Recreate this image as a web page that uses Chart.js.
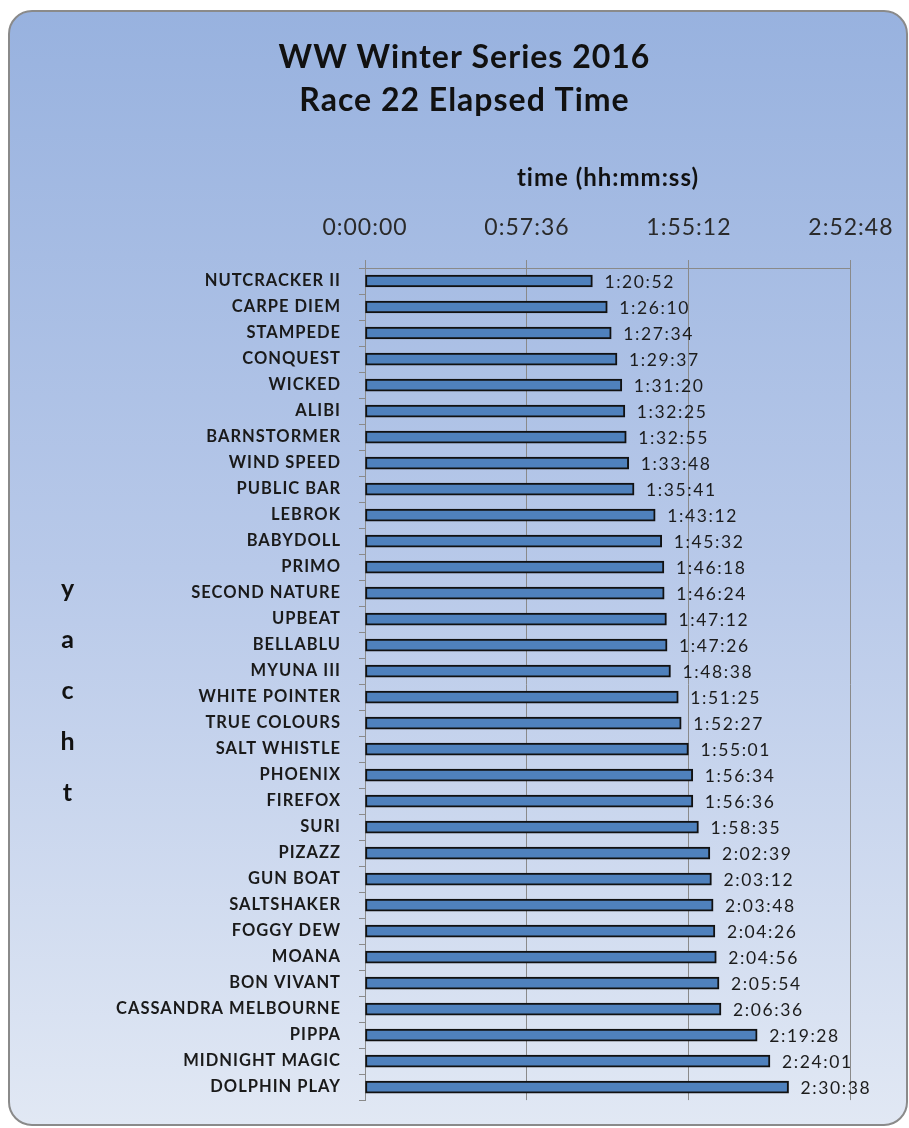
<!DOCTYPE html>
<html><head><meta charset="utf-8">
<script src="https://cdn.jsdelivr.net/npm/chart.js@4.4.1/dist/chart.umd.min.js"></script>
<style>
html,body{margin:0;padding:0;background:#fff;}
#wrap{position:relative;width:909px;height:1128px;overflow:hidden;}
#box{position:absolute;left:8px;top:10px;width:896px;height:1112px;border:2px solid #8a8a8a;border-radius:24px;background:linear-gradient(to bottom,#98b2df 0%,#b8c9e9 50%,#e1e8f4 100%);}
canvas{position:absolute;left:0;top:0;}
</style></head>
<body><div id="wrap"><div id="box"></div><canvas id="c" width="909" height="1128"></canvas></div>
<script>
const titleLines = ['WW Winter Series 2016', 'Race 22 Elapsed Time'];
const xAxisTitle = 'time (hh:mm:ss)';
const yAxisLetters = ['y', 'a', 'c', 'h', 't'];
const yachts = ['NUTCRACKER II','CARPE DIEM','STAMPEDE','CONQUEST','WICKED','ALIBI','BARNSTORMER','WIND SPEED','PUBLIC BAR','LEBROK','BABYDOLL','PRIMO','SECOND NATURE','UPBEAT','BELLABLU','MYUNA III','WHITE POINTER','TRUE COLOURS','SALT WHISTLE','PHOENIX','FIREFOX','SURI','PIZAZZ','GUN BOAT','SALTSHAKER','FOGGY DEW','MOANA','BON VIVANT','CASSANDRA MELBOURNE','PIPPA','MIDNIGHT MAGIC','DOLPHIN PLAY'];
const elapsed = ['1:20:52','1:26:10','1:27:34','1:29:37','1:31:20','1:32:25','1:32:55','1:33:48','1:35:41','1:43:12','1:45:32','1:46:18','1:46:24','1:47:12','1:47:26','1:48:38','1:51:25','1:52:27','1:55:01','1:56:34','1:56:36','1:58:35','2:02:39','2:03:12','2:03:48','2:04:26','2:04:56','2:05:54','2:06:36','2:19:28','2:24:01','2:30:38'];
const tickLabels = ['0:00:00','0:57:36','1:55:12','2:52:48'];
const tickSeconds = [0, 3456, 6912, 10368];

function toSeconds(s){ const p = s.split(':').map(Number); return p[0]*3600 + p[1]*60 + p[2]; }
const seconds = elapsed.map(toSeconds);

const textSpacing = {
  id: 'textSpacing',
  beforeDraw(chart){ if ('letterSpacing' in chart.ctx) chart.ctx.letterSpacing = '1px'; }
};
const valueLabels = {
  id: 'valueLabels',
  afterDatasetsDraw(chart){
    const ctx = chart.ctx;
    const meta = chart.getDatasetMeta(0);
    ctx.save();
    ctx.font = '17.5px Lato';
    ctx.fillStyle = '#1c1c1c';
    ctx.textBaseline = 'middle';
    ctx.textAlign = 'left';
    if ('letterSpacing' in ctx) ctx.letterSpacing = '1.6px';
    meta.data.forEach((bar, i) => { ctx.fillText(elapsed[i], bar.x + 12, bar.y + 1); });
    ctx.restore();
  }
};
const verticalTitle = {
  id: 'verticalTitle',
  afterDraw(chart){
    const ctx = chart.ctx;
    ctx.save();
    ctx.font = 'bold 25px Lato';
    ctx.fillStyle = '#111';
    ctx.textAlign = 'center';
    ctx.textBaseline = 'alphabetic';
    yAxisLetters.forEach((ch, i) => ctx.fillText(ch, 68, 597 + i*51));
    ctx.restore();
  }
};

function build(){
  new Chart(document.getElementById('c'), {
    type: 'bar',
    data: {
      labels: yachts,
      datasets: [{
        data: seconds,
        backgroundColor: '#4f81bd',
        borderColor: '#111111',
        borderWidth: 2,
        borderSkipped: false,
        barThickness: 12
      }]
    },
    options: {
      indexAxis: 'y',
      responsive: false,
      animation: false,
      devicePixelRatio: 1,
      layout: { padding: { left: 77, right: 57, top: 0, bottom: 24 } },
      plugins: {
        legend: { display: false },
        tooltip: { enabled: false },
        title: {
          display: true,
          text: titleLines,
          color: '#111',
          font: { family: 'Lato', size: 32, weight: 'bold', lineHeight: 1.36 },
          padding: { top: 35.5, bottom: 0 }
        }
      },
      scales: {
        x: {
          position: 'top',
          min: 0, max: 10368,
          afterBuildTicks(scale){ scale.ticks = tickSeconds.map(v => ({ value: v })); },
          afterFit(scale){ scale.height = 145.5; },
          ticks: {
            callback: (v, i) => tickLabels[i],
            font: { family: 'Lato', size: 23 },
            color: '#2a2a2a',
            padding: 19,
            maxRotation: 0
          },
          grid: { color: '#8a8a8a', lineWidth: 1, tickLength: 8 },
          border: { display: true, color: '#8a8a8a' },
          title: {
            display: true,
            text: xAxisTitle,
            color: '#111',
            font: { family: 'Lato', size: 24, weight: 'bold', lineHeight: 1.2 },
            padding: { top: 41.1, bottom: 0 }
          }
        },
        y: {
          afterFit(scale){ scale.width = 288; },
          ticks: {
            font: { family: 'Lato', size: 16.5, weight: 'bold' },
            color: '#1a1a1a',
            padding: 18,
            autoSkip: false
          },
          grid: { drawOnChartArea: false, color: '#8a8a8a', tickLength: 6 },
          border: { display: true, color: '#8a8a8a' }
        }
      }
    },
    plugins: [textSpacing, valueLabels, verticalTitle]
  });
}
Promise.all([
  document.fonts.load('bold 16px Lato'),
  document.fonts.load('16px Lato')
]).then(build, build);
</script>
</body></html>
